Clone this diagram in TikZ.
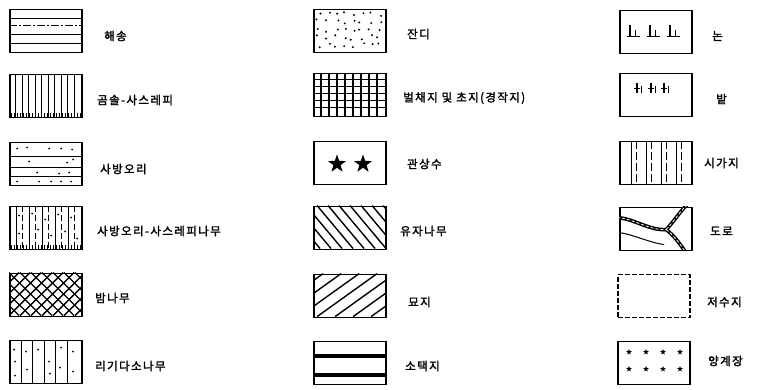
\documentclass[tikz,border=0pt]{standalone}
\usepackage{fontspec}
\newfontfamily\kr[FakeBold=2,LetterSpace=12]{Noto Sans CJK KR}
\usetikzlibrary{shapes.geometric,calc}
\tikzset{
  box/.style={draw, line width=1.8pt, minimum width=72pt, minimum height=43pt, inner sep=0pt},
  lbl/.style={anchor=west, inner sep=0pt, font=\kr\fontsize{11.5}{13}\selectfont},
  pat/.style={line width=1pt},
  patb/.style={line width=1.4pt},
  bigstar/.style={star, star points=5, star point ratio=2.5, fill=black, draw=none, minimum size=19pt, inner sep=0pt},
  smallstar/.style={star, star points=5, star point ratio=2.3, fill=black, draw=none, minimum size=6pt, inner sep=0pt},
  road/.style={line width=3.6pt, line cap=round},
  roadin/.style={line width=0.8pt, white, dash pattern=on 3pt off 2pt},
}
\newcommand{\inbox}[2]{\begin{scope}[shift={(#1.north west)}]\clip (0,0) rectangle (72,43);#2\end{scope}}
\begin{document}
\begin{tikzpicture}[x=1pt,y=-1pt]
\useasboundingbox (0,0) rectangle (760,390);
% ---------- column 1 ----------
\node[box] (a1) at (46,31) {};
\inbox{a1}{
  \draw[pat] (0,10)--(72,10);
  \draw[pat, dash pattern=on 8pt off 2pt on 2pt off 2pt] (0,17)--(72,17);
  \draw[pat] (0,26)--(72,26);
  \draw[pat] (0,35)--(72,35);
}
\node[lbl] (t1) at (104,36) {해송};

\node[box] (a2) at (46,96) {};
\inbox{a2}{
  \foreach \x in {6.5,13,...,66} \draw[pat] (\x,0)--(\x,43);
  \foreach \x in {2,5,...,71} \draw[pat] (\x,43)--(\x,39);
}
\node[lbl] (t2) at (97,100) {곰솔-사스레피};

\node[box] (a3) at (46,164) {};
\inbox{a3}{
  \draw[pat] (0,15)--(72,15);
  \draw[pat] (0,26)--(72,26);
  \draw[pat] (0,35)--(72,35);
  \foreach \p in {(8,7),(18,6),(40,7),(52,7),(63,8),(20,20),(58,21),(64,18),(28,31),(50,32),(60,31),(8,40),(30,40),(42,40),(52,40),(62,40)}
    \fill \p circle (1pt);
}
\node[lbl] (t3) at (100,169) {사방오리};

\node[box] (a4) at (46,228) {};
\inbox{a4}{
  \foreach \x in {7,20,33,46,59} \draw[pat] (\x,0)--(\x,43);
  \foreach \x in {13,26,39,52,65} \draw[pat, dash pattern=on 6pt off 3pt] (\x,0)--(\x,43);
  \foreach \p in {(10,10),(23,8),(36,14),(49,9),(62,12),(10,28),(29,24),(42,30),(56,26),(68,33)}
    \fill \p circle (1pt);
  \foreach \x in {2,5,...,71} \draw[pat] (\x,43)--(\x,39);
}
\node[lbl] (t4) at (97,231) {사방오리-사스레피나무};

\node[box] (a5) at (46,295) {};
\inbox{a5}{
  \foreach \k in {-55,-44,...,80} {
    \draw[patb] (\k,0)--(\k+43,43);
    \draw[patb] (\k,43)--(\k+43,0);
  }
}
\node[lbl] (t5) at (95,298) {밤나무};

\node[box] (a6) at (46,362) {};
\inbox{a6}{
  \foreach \x in {12,23,35,46,58} \draw[pat] (\x,0)--(\x,43);
  \foreach \p in {(5,10),(6,22),(17,12),(18,30),(29,10),(40,22),(41,34),(52,8),(51,28),(64,12),(64,32),(6,36)}
    \fill \p circle (1pt);
}
\node[lbl] (t6) at (95,366) {리기다소나무};

% ---------- column 2 ----------
\node[box] (b1) at (350,31) {};
\pgfmathsetseed{5}
\inbox{b1}{
  \foreach \i in {0,...,7} {
    \foreach \j in {0,...,4} {
      \pgfmathsetmacro\px{6+8.5*\i+3*rand}
      \pgfmathsetmacro\py{5+8*\j+2.5*rand}
      \fill (\px,\py) circle (1.1pt);
    }
  }
}
\node[lbl] (u1) at (407,34) {잔디};

\node[box] (b2) at (350,95) {};
\inbox{b2}{
  \foreach \x in {8,16,...,64} \draw[patb] (\x,0)--(\x,43);
  \foreach \y in {7,14,...,38} \draw[patb] (0,\y)--(72,\y);
}
\node[lbl] (u2) at (403,98) {벌채지 및 초지(경작지)};

\node[box] (b3) at (350,163) {};
\node[bigstar] (s1) at ($(b3.center)+(-13,1)$) {};
\node[bigstar] (s2) at ($(b3.center)+(13,1)$) {};
\node[lbl] (u3) at (407,164) {관상수};

\node[box] (b4) at (350,228) {};
\inbox{b4}{
  \foreach \k in {-40,-29,...,75} \draw[patb] (\k,0)--(\k+36,43);
}
\node[lbl] (u4) at (400,231) {유자나무};

\node[box] (b5) at (350,296) {};
\inbox{b5}{
  \foreach \k in {-50,-32,...,75} \draw[patb] (\k,43)--(\k+60,0);
}
\node[lbl] (u5) at (408,302) {묘지};

\node[box] (b6) at (350,363) {};
\inbox{b6}{
  \draw[line width=4pt] (0,15)--(72,15);
  \draw[line width=4pt] (0,34)--(72,34);
}
\node[lbl] (u6) at (405,366) {소택지};

% ---------- column 3 ----------
\node[box] (c1) at (656,32) {};
\inbox{c1}{
  \foreach \x in {8,28,48} {
    \draw[patb] (\x,27)--(\x+13,27);
    \draw[patb] (\x+3,15)--(\x+3,27);
    \draw[pat] (\x+8,20)--(\x+8,27);
  }
}
\node[lbl] (v1) at (712,36) {논};

\node[box] (c2) at (656,95) {};
\inbox{c2}{
  \foreach \x in {18,32,45} {
    \draw[patb] (\x,10)--(\x,20);
    \draw[pat] (\x-3,16)--(\x+3,16);
    \draw[pat] (\x+4,13)--(\x+4,20);
  }
}
\node[lbl] (v2) at (716,99) {밭};

\node[box] (c3) at (656,163) {};
\inbox{c3}{
  \foreach \x in {12,27,42,57} \draw[pat] (\x,0)--(\x,43);
  \foreach \x in {17,32,47,62} \draw[pat, dash pattern=on 8pt off 3pt] (\x,0)--(\x,43);
}
\node[lbl] (v3) at (704,163) {시가지};

\node[box] (c4) at (656,229) {};
\inbox{c4}{
  \draw[road] (-2,11) .. controls (15,12) and (30,24) .. (47,23);
  \draw[road] (47,23) .. controls (54,16) and (60,6) .. (68,-2);
  \draw[road] (47,23) .. controls (54,28) and (60,36) .. (66,45);
  \draw[roadin] (-2,11) .. controls (15,12) and (30,24) .. (47,23);
  \draw[roadin] (47,23) .. controls (54,16) and (60,6) .. (68,-2);
  \draw[roadin] (47,23) .. controls (54,28) and (60,36) .. (66,45);
  \draw[pat] (0,26) .. controls (15,28) and (30,36) .. (45,38);
}
\node[lbl] (v4) at (710,231) {도로};

\node[box, dashed, dash pattern=on 5pt off 2pt] (c5) at (654,296) {};
\node[lbl] (v5) at (707,302) {저수지};

\node[box] (c6) at (654,363) {};
\foreach \dx in {-25,-8,9,26} {
  \node[smallstar] at ($(c6.center)+(\dx,-11)$) {};
  \node[smallstar] at ($(c6.center)+(\dx,6)$) {};
}
\node[lbl] (v6) at (708,361) {양계장};
\end{tikzpicture}
\end{document}
